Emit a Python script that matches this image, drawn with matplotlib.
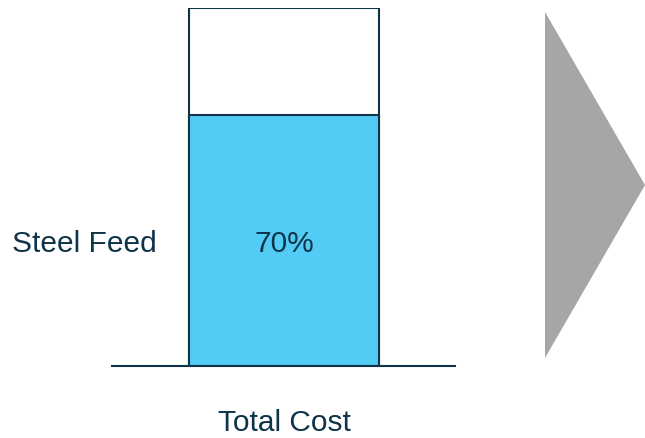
import matplotlib
matplotlib.use('Agg')
import matplotlib.pyplot as plt
from matplotlib.patches import Polygon

# data
categories = ['Total Cost']
segment_names = ['Steel Feed']
segment_values = [0.70]
total_values = [1.0]

navy = '#0e3449'
blue = '#52cbf5'
grey = '#a6a6a6'

plt.rcParams['font.family'] = ['Liberation Sans', 'DejaVu Sans']
fs = 21.5

fig = plt.figure(figsize=(6.45, 4.38), dpi=100)
ax = fig.add_axes([112 / 645, 72 / 438, 343 / 645, 358 / 438])

x = range(len(categories))
# full bar outline (100%)
ax.bar(x, total_values, width=1.0, color='white', edgecolor=navy, linewidth=1.5, zorder=2)
# filled share
ax.bar(x, segment_values, width=1.0, color=blue, edgecolor=navy, linewidth=1.5, zorder=3)

for i, v in enumerate(segment_values):
    ax.text(i, v / 2, f'{v:.0%}', ha='center', va='center_baseline',
            fontsize=fs, color=navy, zorder=4)
    ax.annotate(segment_names[i], xy=(i - 0.5, v / 2), xytext=(-32, 0),
                textcoords='offset pixels', ha='right', va='center_baseline',
                fontsize=fs, color=navy)

ax.set_xlim(-0.905, 0.9)
ax.set_ylim(0, 1)
ax.set_xticks(list(x))
ax.set_xticklabels(categories, fontsize=fs, color=navy)
ax.tick_params(axis='x', length=0, pad=31)
ax.set_yticks([])
for s in ['top', 'left', 'right']:
    ax.spines[s].set_visible(False)
ax.spines['bottom'].set_color(navy)
ax.spines['bottom'].set_linewidth(1.5)
ax.spines['bottom'].set_zorder(5)
ax.patch.set_visible(False)

# grey arrow head on the right
arrow = Polygon([[545 / 645, 1 - 12 / 438], [645 / 645, 1 - 185 / 438], [545 / 645, 1 - 358 / 438]],
                closed=True, transform=fig.transFigure, facecolor=grey, edgecolor='none')
fig.patches.append(arrow)

fig.savefig('out.png', dpi=100)
